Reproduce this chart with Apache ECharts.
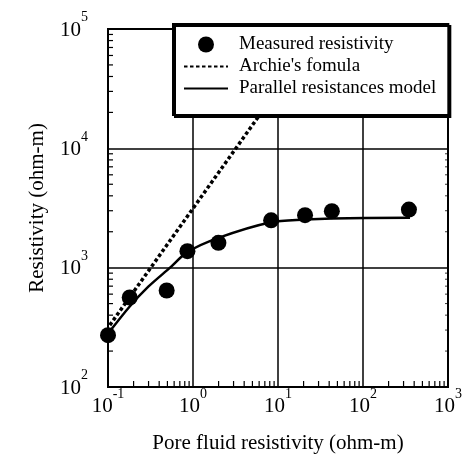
<!DOCTYPE html>
<html><head><meta charset="utf-8">
<script src="https://cdn.jsdelivr.net/npm/echarts@6/dist/echarts.min.js"></script>
<style>html,body{margin:0;padding:0;background:#fff}#c{width:468px;height:463px}</style>
</head><body><div id="c"></div>
<script>
// Measured resistivity (pore fluid resistivity, resistivity), ohm-m
const measuredX = [0.1, 0.18, 0.49, 0.86, 1.99, 8.3, 20.8, 43, 347];
const measuredY = [272, 562, 644, 1375, 1614, 2495, 2755, 2973, 3070];
// Archie's formula (straight line in log-log)
const archieX = [0.105, 32];
const archieY = [330, 100000];
// Parallel resistances model
const modelX = [0.1, 0.18, 0.3, 0.537, 0.857, 1.99, 8.28, 20.8, 43, 357];
const modelY = [280, 473, 696, 1000, 1349, 1778, 2404, 2530, 2582, 2620];
// Axes
const xMin = 0.1, xMax = 1000, yMin = 100, yMax = 100000;
const xTitle = 'Pore fluid resistivity (ohm-m)';
const yTitle = 'Resistivity (ohm-m)';
const names = ['Measured resistivity', "Archie's fomula", 'Parallel resistances model'];

const FONT = 'Liberation Serif';
const zip = (a, b) => a.map((v, i) => [v, b[i]]);

function minorVals(lo, hi) {
  const out = [];
  for (let d = Math.round(Math.log10(lo)); d < Math.round(Math.log10(hi)); d++) {
    for (let k = 2; k <= 9; k++) out.push(+(k * Math.pow(10, d)).toPrecision(6));
  }
  return out;
}
const xMinor = minorVals(xMin, xMax).map(v => [v, yMin]);
const yMinor = minorVals(yMin, yMax).map(v => [xMin, v]);
const yMinorR = minorVals(yMin, yMax).map(v => [xMax, v]);

const powLabel = v => '{b|10}{s|' + Math.round(Math.log10(v)) + '}';
const rich = {
  b: { fontFamily: FONT, fontSize: 21, color: '#000', lineHeight: 30, verticalAlign: 'bottom' },
  s: { fontFamily: FONT, fontSize: 14, color: '#000', lineHeight: 14, verticalAlign: 'top' }
};

function tickSeries(data, dx, dy, w) {
  return {
    type: 'custom', silent: true, clip: false, z: 1,
    data: data,
    renderItem: (params, api) => {
      const p = api.coord([api.value(0), api.value(1)]);
      return { type: 'line', shape: { x1: p[0], y1: p[1], x2: p[0] + dx, y2: p[1] + dy }, style: { stroke: '#000', lineWidth: w } };
    }
  };
}

const chart = echarts.init(document.getElementById('c'), null, { renderer: 'canvas' });
chart.setOption({
  animation: false,
  backgroundColor: '#fff',
  grid: { left: 108, right: 20, top: 29, bottom: 76, show: true, borderColor: '#000', borderWidth: 2, backgroundColor: 'transparent' },
  legend: {
    data: names,
    orient: 'vertical',
    left: 173, top: 24,
    padding: [11, 12, 17, 10],
    itemWidth: 44, itemHeight: 16, itemGap: 3,
    backgroundColor: '#fff', borderColor: '#000', borderWidth: 2,
    shadowColor: '#000', shadowOffsetX: 2, shadowOffsetY: 2, shadowBlur: 0,
    textStyle: { fontFamily: FONT, fontSize: 19, color: '#000', lineHeight: 16, padding: [0, 0, 0, 6] }
  },
  xAxis: {
    type: 'log', logBase: 10, min: xMin, max: xMax,
    name: xTitle, nameLocation: 'middle', nameGap: 46,
    nameTextStyle: { fontFamily: FONT, fontSize: 21, color: '#000' },
    axisLine: { show: false }, axisTick: { show: false },
    axisLabel: { formatter: powLabel, rich: rich, margin: 0 },
    splitLine: { show: true, lineStyle: { color: '#000', width: 1.5 } }
  },
  yAxis: {
    type: 'log', logBase: 10, min: yMin, max: yMax,
    name: yTitle, nameLocation: 'middle', nameGap: 60, nameRotate: 90,
    nameTextStyle: { fontFamily: FONT, fontSize: 21, color: '#000' },
    axisLine: { show: false }, axisTick: { show: false },
    axisLabel: { formatter: powLabel, rich: rich, margin: 20, padding: [0, 0, 7, 0] },
    splitLine: { show: true, lineStyle: { color: '#000', width: 1.5 } }
  },
  series: [
    tickSeries(xMinor, 0, -6, 1.2),
    tickSeries(yMinor, 5, 0, 1.2),
    tickSeries(yMinorR, -3, 0, 0.8),
    {
      name: names[1], type: 'line', data: zip(archieX, archieY),
      symbol: 'none', z: 3,
      lineStyle: { color: '#000', width: 3.5, type: [3.5, 2.5] },
      itemStyle: { color: 'rgba(0,0,0,0)', opacity: 0 }
    },
    {
      name: names[2], type: 'line', data: zip(modelX, modelY),
      symbol: 'none', smooth: 0.3, z: 3,
      lineStyle: { color: '#000', width: 2.5 },
      itemStyle: { color: 'rgba(0,0,0,0)', opacity: 0 }
    },
    {
      name: names[0], type: 'scatter', data: zip(measuredX, measuredY),
      symbol: 'circle', symbolSize: 16, z: 4,
      itemStyle: { color: '#000', opacity: 1 }
    }
  ]
});
</script>
</body></html>
